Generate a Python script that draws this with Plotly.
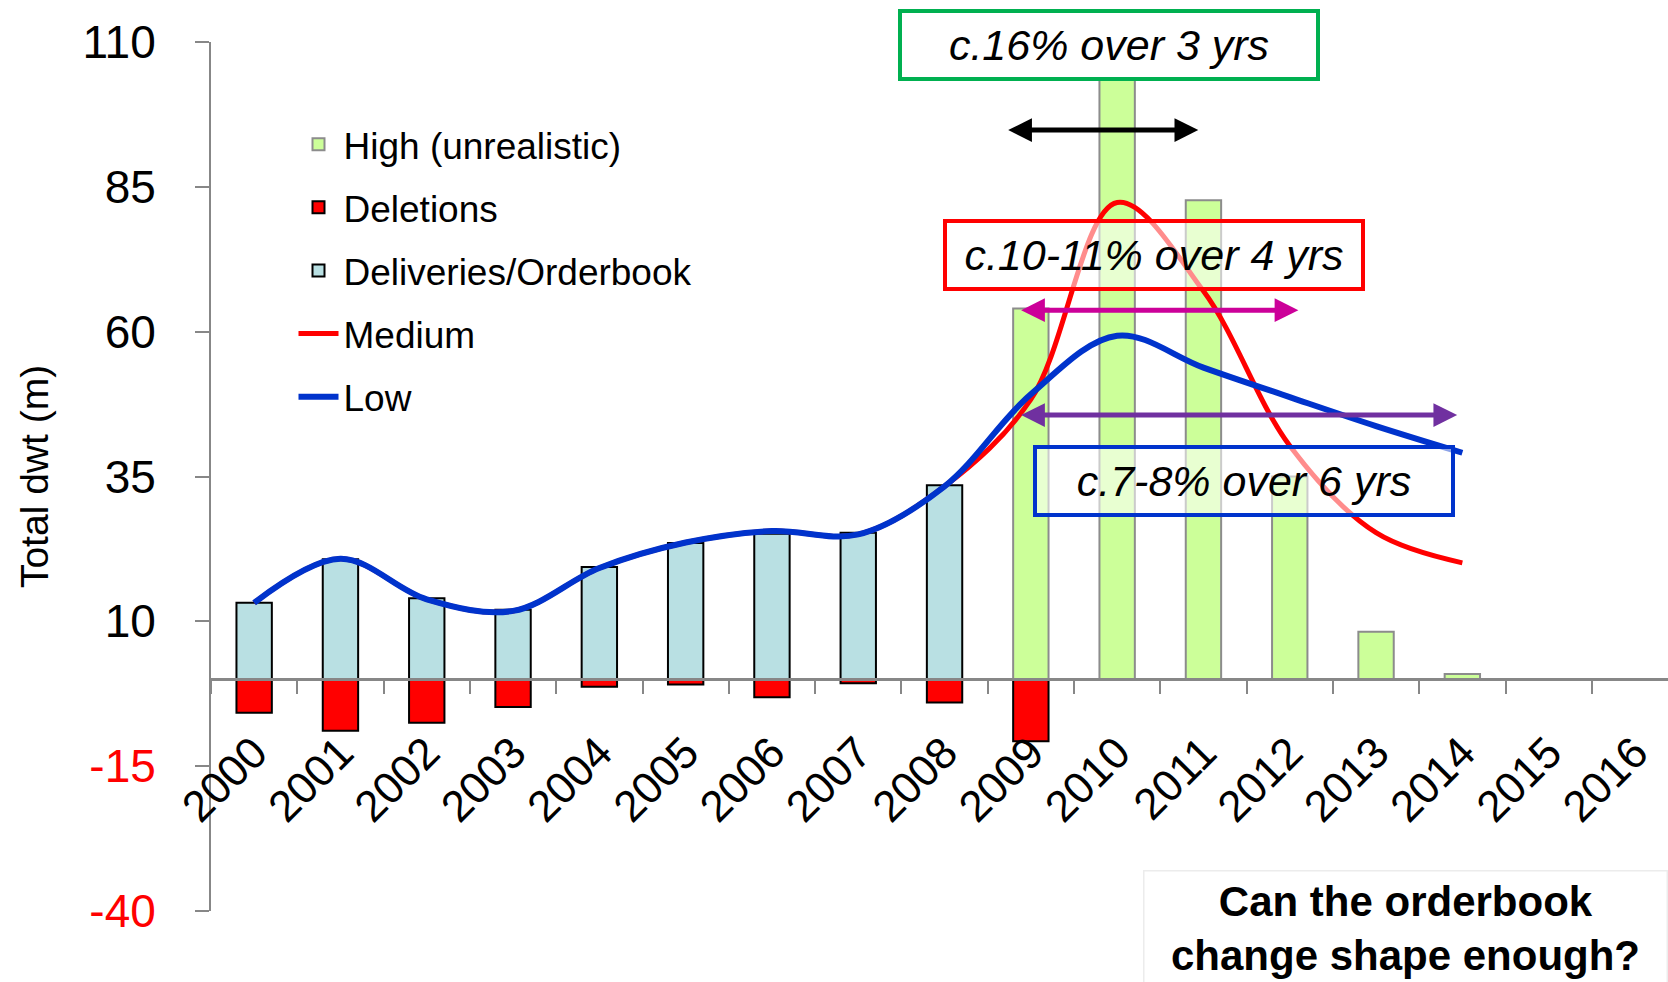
import plotly.graph_objects as go

# Years on the category axis
years = [str(y) for y in range(2000, 2017)]

# Total dwt (m) per year; None where a series has no value
deliveries = [13.2, 20.7, 14.0, 12.0, 19.4, 23.5, 25.1, 25.3, 33.5,
              None, None, None, None, None, None, None, None]
deletions = [-5.8, -8.9, -7.5, -4.8, -1.3, -0.9, -3.1, -0.7, -4.0,
             -10.7, None, None, None, None, None, None, None]
high = [None, None, None, None, None, None, None, None, None,
        64.0, 104.2, 82.7, 35.0, 8.2, 0.9, None, None]
medium = [13.2, 20.8, 13.8, 11.8, 19.2, 23.6, 25.6, 25.0, 33.3,
          48.3, 82.3, 67.0, 40.3, 25.3, 20.1, None, None]
low = [13.2, 20.8, 13.8, 11.8, 19.2, 23.6, 25.6, 25.0, 33.3,
       49.2, 59.3, 53.8, 48.7, 43.7, 39.1, None, None]

y_ticks = [-40, -15, 10, 35, 60, 85, 110]
y_tick_text = [f'<span style="color:#FF0000">{v}</span>' if v < 0 else str(v)
               for v in y_ticks]

FONT = "Arial, 'Liberation Sans', sans-serif"
Y_MIN, Y_MAX = -40, 110

W, H = 1668, 982
ML, MR, MT, MB = 211, 0, 42.3, 70.7
pw, ph = W - ML - MR, H - MT - MB
CAT_PX = 86.3

fig = go.Figure()

bar_w = 0.41
fig.add_trace(go.Bar(
    x=years, y=high, name="High (unrealistic)", width=bar_w,
    marker=dict(color="#CCFF99", line=dict(color="#8C8C8C", width=2)),
    legendgroup="g1"))
fig.add_trace(go.Bar(
    x=years, y=deletions, name="Deletions", width=bar_w,
    marker=dict(color="#FF0000", line=dict(color="#000000", width=2)),
    legendgroup="g2"))
fig.add_trace(go.Bar(
    x=years, y=deliveries, name="Deliveries/Orderbook", width=bar_w,
    marker=dict(color="#B9E0E3", line=dict(color="#000000", width=2)),
    legendgroup="g3"))
fig.add_trace(go.Scatter(
    x=years, y=medium, name="Medium", mode="lines",
    line=dict(color="#FF0000", width=5, shape="spline", smoothing=1.0),
    legendgroup="g4"))
fig.add_trace(go.Scatter(
    x=years, y=low, name="Low", mode="lines",
    line=dict(color="#0033CC", width=6, shape="spline", smoothing=1.0),
    legendgroup="g5"))

annotations = []

# Growth-rate boxes (semi-transparent white fill)
boxes = [
    ("c.16% over 3 yrs", 9.91, 109.4, "#00B050", "rgba(255,255,255,1)"),
    ("c.10-11% over 4 yrs", 10.43, 73.2, "#FF0000", "rgba(255,255,255,0.55)"),
    ("c.7-8% over 6 yrs", 11.47, 34.3, "#0033CC", "rgba(255,255,255,0.55)"),
]
for text, bx, by, col, bg in boxes:
    annotations.append(dict(
        x=bx, y=by, xref="x", yref="y", text=f"<i>{text}</i>",
        showarrow=False, xanchor="center", yanchor="middle",
        width=414, height=64, borderwidth=4, borderpad=0,
        bordercolor=col, bgcolor=bg, align="center", valign="middle",
        font=dict(family=FONT, size=43, color="#000000")))

# Double-headed span arrows
arrows = [
    (8.72, 10.94, 94.8, "#000000"),
    (8.87, 12.10, 63.7, "#CC0099"),
    (8.87, 13.94, 45.6, "#7030A0"),
]
for x0, x1, ay, col in arrows:
    annotations.append(dict(
        x=x1, y=ay, ax=x0, ay=ay, xref="x", yref="y", axref="x", ayref="y",
        text="", showarrow=True, arrowhead=2, startarrowhead=2,
        arrowside="end+start", arrowwidth=5, arrowsize=0.95,
        startarrowsize=0.95, arrowcolor=col, standoff=0, startstandoff=0))

# Question box, bottom right
annotations.append(dict(
    x=(1405 - ML) / pw, y=(H - MB - 929) / ph, xref="paper", yref="paper",
    text="<b>Can the orderbook<br>change shape enough?</b>",
    showarrow=False, align="center", xanchor="center", yanchor="middle",
    width=520, height=112, bordercolor="#ECECEC", borderwidth=1.5,
    bgcolor="white",
    font=dict(family=FONT, size=42, color="#000000")))

zero_pos = (0 - Y_MIN) / (Y_MAX - Y_MIN)

fig.update_layout(
    annotations=annotations,
    width=W, height=H,
    margin=dict(l=ML, r=MR, t=MT, b=MB, pad=0),
    paper_bgcolor="white", plot_bgcolor="white",
    barmode="relative",
    font=dict(family=FONT, color="#000000"),
    showlegend=True,
    legend=dict(
        x=(293.5 - ML) / pw, y=(H - MB - 114) / ph, xanchor="left", yanchor="top",
        font=dict(family=FONT, size=37, color="#000000"),
        tracegroupgap=12, bgcolor="rgba(0,0,0,0)", itemwidth=40),
    xaxis=dict(
        type="category", categoryorder="array", categoryarray=years,
        range=[-0.5, -0.5 + pw / CAT_PX],
        anchor="free", position=zero_pos,
        showline=True, linecolor="#878787", linewidth=2.5,
        ticks="outside", tickson="boundaries", ticklen=13, tickwidth=2,
        tickcolor="#878787", tickangle=-45, ticklabelstandoff=28,
        tickfont=dict(family=FONT, size=44, color="#000000"),
        showgrid=False, zeroline=False),
    yaxis=dict(
        range=[Y_MIN, Y_MAX], tickvals=y_ticks, ticktext=y_tick_text,
        showline=True, linecolor="#878787", linewidth=2,
        ticks="outside", ticklen=14, tickwidth=2, tickcolor="#878787",
        ticklabelstandoff=30,
        tickfont=dict(family=FONT, size=46, color="#000000"),
        showgrid=False, zeroline=False,
        title=dict(text="Total dwt (m)", standoff=22,
                   font=dict(family=FONT, size=39, color="#000000"))),
)

fig.write_html("out.html")
